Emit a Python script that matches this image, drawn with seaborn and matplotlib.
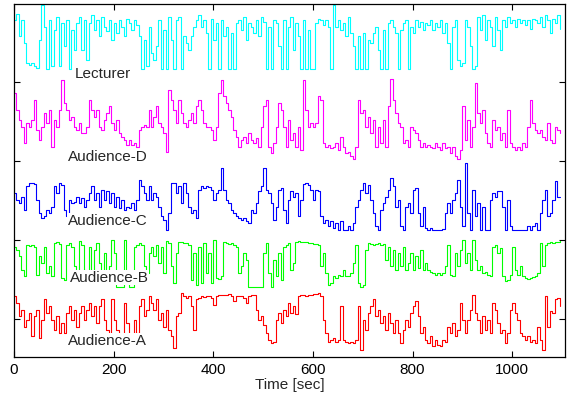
import numpy as np
import pandas as pd
import matplotlib
matplotlib.use('Agg')
import matplotlib.pyplot as plt
import seaborn as sns

# ===================== 数据: 每5秒一个采样, 各通道电平 (0-100, 在各自带内) =====================
TIME_STEP = 5

lecturer = [
    77, 86, 52, 77, 42, 12, 9, 12, 7, 4, 47, 100, 67, 2, 77, 7, 62, 82, 7, 72,
    37, 77, 2, 62, 32, 72, 82, 32, 77, 17, 72, 84, 62, 77, 52, 82, 67, 60, 77, 47,
    72, 57, 77, 67, 52, 79, 72, 62, 77, 69, 52, 2, 47, 7, 67, 27, 17, 37, 77, 2,
    62, 2, 82, 47, 2, 77, 82, 2, 52, 42, 32, 52, 67, 77, 84, 67, 77, 57, 2, 79,
    47, 72, 2, 77, 52, 67, 2, 57, 2, 72, 77, 62, 82, 47, 72, 67, 57, 77, 52, 82,
    74, 2, 67, 2, 77, 72, 37, 2, 77, 2, 67, 82, 32, 72, 52, 2, 77, 2, 62, 2,
    2, 72, 79, 77, 69, 77, 67, 2, 100, 67, 77, 62, 72, 52, 82, 57, 37, 2, 52, 2,
    57, 2, 47, 42, 57, 67, 32, 2, 62, 2, 72, 77, 67, 57, 2, 62, 72, 77, 2, 67,
    57, 77, 67, 74, 62, 72, 69, 77, 62, 72, 67, 77, 57, 72, 42, 2, 67, 77, 17, 7,
    12, 77, 67, 37, 2, 7, 82, 62, 84, 47, 77, 67, 37, 82, 62, 32, 77, 67, 82, 72,
    77, 67, 79, 72, 77, 69, 77, 64, 79, 77, 72, 82, 67, 84, 77, 57, 79, 72, 84, 64,
]

audience_d = [
    83, 63, 51, 43, 23, 47, 43, 51, 75, 39, 27, 43, 59, 47, 63, 19, 51, 43, 63, 99,
    71, 63, 51, 55, 43, 39, 47, 35, 35, 43, 75, 63, 55, 63, 43, 39, 51, 59, 67, 47,
    39, 51, 35, 31, 27, 21, 27, 21, 23, 19, 39, 43, 45, 43, 63, 43, 55, 67, 47, 43,
    35, 13, 87, 75, 63, 47, 75, 59, 47, 43, 51, 59, 47, 67, 75, 63, 47, 43, 43, 39,
    27, 43, 83, 99, 79, 71, 63, 55, 39, 31, 19, 27, 31, 23, 35, 27, 23, 29, 19, 43,
    67, 75, 19, 12, 23, 43, 71, 63, 43, 19, 51, 27, 35, 19, 43, 15, 99, 63, 43, 47,
    43, 47, 79, 75, 23, 19, 21, 17, 19, 23, 15, 31, 19, 12, 13, 8, 4, 19, 75, 59,
    63, 43, 55, 35, 51, 19, 43, 23, 51, 19, 67, 100, 75, 59, 47, 43, 23, 27, 19, 43,
    39, 35, 27, 19, 23, 19, 21, 19, 17, 23, 19, 15, 23, 17, 19, 12, 19, 8, 4, 15,
    67, 27, 51, 19, 43, 95, 59, 47, 63, 35, 23, 19, 51, 39, 43, 27, 35, 19, 63, 23,
    19, 15, 19, 15, 23, 19, 43, 75, 47, 39, 35, 39, 31, 27, 47, 27, 23, 43, 39, 35,
]

audience_c = [
    55, 46, 41, 50, 31, 65, 70, 70, 69, 46, 27, 20, 22, 31, 27, 36, 65, 55, 70, 67,
    31, 22, 46, 41, 43, 50, 41, 48, 36, 46, 55, 65, 46, 55, 36, 60, 46, 58, 41, 55,
    36, 50, 34, 46, 31, 36, 34, 41, 31, 46, 74, 65, 55, 46, 65, 46, 55, 50, 36, 22,
    17, 3, 27, 70, 70, 55, 65, 41, 70, 55, 36, 27, 31, 20, 60, 65, 62, 65, 64, 60,
    46, 55, 60, 91, 60, 46, 41, 31, 27, 22, 20, 17, 20, 15, 12, 31, 27, 41, 58, 65,
    91, 60, 55, 41, 17, 36, 60, 62, 31, 12, 46, 58, 50, 55, 22, 46, 69, 70, 67, 60,
    46, 60, 58, 22, 12, 17, 8, 15, 5, 12, 3, 15, 3, 3, 8, 3, 12, 36, 46, 60,
    70, 55, 67, 46, 27, 8, 3, 31, 41, 50, 60, 77, 65, 36, 46, 8, 3, 36, 41, 27,
    60, 62, 27, 8, 36, 5, 3, 5, 3, 3, 3, 3, 4, 27, 41, 27, 46, 55, 74, 36,
    8, 98, 27, 3, 60, 22, 41, 3, 36, 3, 3, 46, 55, 50, 59, 58, 36, 3, 46, 8,
    3, 3, 3, 3, 3, 3, 8, 3, 8, 12, 3, 27, 46, 60, 22, 27, 46, 72, 50, 50,
]

audience_b = [
    83, 77, 64, 38, 26, 87, 85, 87, 83, 29, 64, 51, 83, 32, 45, 26, 90, 91, 88, 22,
    19, 87, 90, 83, 45, 32, 93, 87, 38, 32, 83, 32, 77, 90, 51, 26, 71, 19, 45, 96,
    71, 6, 6, 6, 96, 13, 5, 5, 83, 87, 90, 87, 45, 32, 71, 83, 64, 87, 51, 83,
    32, 93, 90, 45, 13, 71, 91, 91, 90, 90, 87, 19, 71, 10, 83, 13, 90, 32, 71, 13,
    96, 22, 21, 26, 91, 90, 88, 90, 87, 83, 32, 45, 71, 58, 6, 5, 5, 5, 6, 5,
    71, 90, 32, 6, 58, 26, 71, 19, 83, 87, 90, 38, 51, 91, 93, 92, 92, 91, 90, 90,
    88, 88, 87, 45, 71, 32, 10, 13, 26, 22, 29, 26, 38, 26, 27, 32, 51, 87, 13, 6,
    10, 77, 90, 88, 87, 88, 90, 87, 88, 58, 83, 45, 77, 38, 71, 45, 83, 38, 51, 71,
    38, 64, 42, 77, 38, 51, 38, 35, 32, 29, 32, 29, 33, 45, 87, 29, 26, 71, 45, 77,
    96, 51, 71, 38, 96, 58, 38, 45, 32, 35, 29, 26, 83, 87, 71, 80, 26, 16, 19, 29,
    83, 38, 29, 45, 26, 22, 21, 22, 24, 26, 32, 90, 45, 87, 90, 91, 90, 91, 92, 93,
]

audience_a = [
    92, 81, 59, 70, 42, 53, 64, 26, 59, 70, 23, 53, 87, 64, 76, 53, 37, 59, 31, 48,
    31, 64, 76, 53, 70, 42, 64, 76, 53, 70, 81, 59, 76, 48, 76, 87, 53, 37, 20, 87,
    53, 37, 14, 9, 81, 48, 14, 9, 53, 31, 76, 87, 59, 70, 92, 81, 70, 87, 53, 64,
    42, 70, 37, 26, 6, 59, 64, 98, 92, 90, 92, 76, 37, 87, 90, 92, 91, 93, 92, 90,
    78, 93, 94, 94, 95, 94, 96, 93, 84, 92, 93, 92, 90, 81, 93, 94, 95, 70, 53, 59,
    45, 31, 20, 14, 17, 53, 64, 48, 70, 59, 81, 64, 76, 62, 93, 94, 94, 93, 94, 95,
    96, 96, 97, 93, 53, 31, 17, 20, 23, 17, 20, 76, 20, 16, 14, 16, 14, 20, 76, 3,
    53, 37, 64, 76, 87, 59, 70, 48, 59, 37, 64, 48, 31, 53, 31, 14, 37, 53, 42, 64,
    76, 84, 59, 31, 42, 20, 14, 26, 9, 20, 12, 9, 20, 17, 42, 31, 48, 26, 37, 81,
    53, 31, 53, 70, 95, 64, 53, 31, 59, 37, 53, 31, 81, 70, 48, 31, 37, 14, 31, 70,
    81, 64, 53, 31, 26, 20, 26, 17, 20, 14, 42, 20, 3, 92, 42, 67, 64, 87, 90, 76,
]

SERIES_NAMES = ['Lecturer', 'Audience-D', 'Audience-C', 'Audience-B', 'Audience-A']
SERIES_LEVELS = [lecturer, audience_d, audience_c, audience_b, audience_a]
# 各通道在纵轴上的带底与带宽
band_base = [4.14, 2.975, 2.10, 1.367, 0.582]
band_span = [0.835, 1.063, 0.886, 0.658, 0.76]

x_ticks = [0, 200, 400, 600, 800, 1000]
y_ticks = [1, 2, 3, 4]

# ===================== 样式 =====================
colors = ['#00ffff', '#ff00ff', '#0000ff', '#00ff00', '#ff0000']
label_x = [122, 108, 108, 112, 108]
label_y = [4.10, 3.05, 2.24, 1.52, 0.72]

# ===================== 长表 =====================
frames = []
for name, lv, b, s in zip(SERIES_NAMES, SERIES_LEVELS, band_base, band_span):
    lv = np.asarray(lv, dtype=float)
    frames.append(pd.DataFrame({
        'time': np.arange(len(lv)) * TIME_STEP,
        'value': b + lv / 100.0 * s,
        'series': name,
    }))
df = pd.concat(frames, ignore_index=True)

sns.set_style('ticks')
plt.rcParams['font.family'] = ['Liberation Sans', 'DejaVu Sans']

fig = plt.figure(figsize=(5.67, 4.01), dpi=100)
ax = fig.add_axes([14 / 567, 1 - 357 / 401, 551 / 567, 353 / 401])

# 阶梯式绘制, 接近原图的采样保持外观
sns.lineplot(data=df, x='time', y='value', hue='series', hue_order=SERIES_NAMES,
             palette=colors, estimator=None, sort=False, lw=0.8,
             drawstyle='steps-post', legend=False, ax=ax)

for name, tx, ty in zip(SERIES_NAMES, label_x, label_y):
    ax.text(tx, ty, name, fontsize=11, ha='left', va='center', zorder=5,
            bbox=dict(facecolor='white', edgecolor='none', pad=0.5))

ax.set_xlim(0, 1106)
ax.set_ylim(0.515, 4.985)
ax.set_xticks(x_ticks)
ax.set_yticks(y_ticks)
ax.set_yticklabels([])
ax.tick_params(direction='in', length=4, width=0.8, colors='black',
               top=True, right=True, labelsize=11, pad=4)
for sp in ax.spines.values():
    sp.set_visible(True)
    sp.set_color('black')
    sp.set_linewidth(0.9)
ax.set_xlabel('Time [sec]', fontsize=11, labelpad=1)
ax.set_ylabel('')

fig.savefig('out.png', dpi=100)
plt.close(fig)
